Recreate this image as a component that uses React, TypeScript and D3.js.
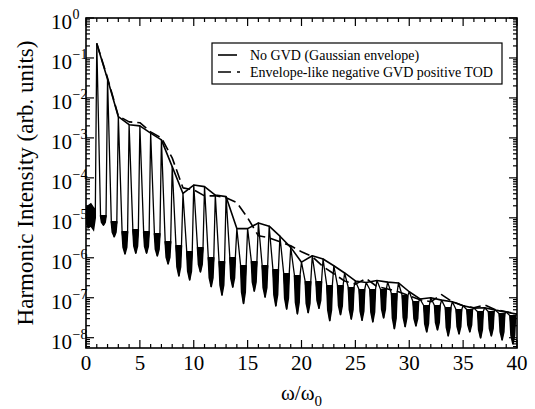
import React from 'react';
import * as d3 from 'd3';

// Harmonic orders (omega / omega_0)
const harmonicOrders = [1, 2, 3, 4, 5, 6, 7, 8, 9, 10, 11, 12, 13, 14, 15, 16, 17, 18, 19, 20,
  21, 22, 23, 24, 25, 26, 27, 28, 29, 30, 31, 32, 33, 34, 35, 36, 37, 38, 39, 40];

// No GVD: log10 of harmonic peak intensity
const noGvdPeakLog = [-0.64, -1.53, -2.47, -2.67, -2.70, -2.88, -3.05, -3.72, -4.39, -4.18,
  -4.22, -4.43, -4.47, -5.27, -5.27, -5.13, -5.21, -5.46, -5.74, -6.11,
  -5.95, -6.03, -6.20, -6.38, -6.58, -6.62, -6.57, -6.61, -6.63, -6.85,
  -7.03, -7.00, -7.06, -7.10, -7.20, -7.26, -7.25, -7.31, -7.36, -7.41];

// No GVD: noisy background between harmonics (upper and lower edge, log10)
const troughTopLog = [-4.95, -5.1, -5.35, -5.3, -5.35, -5.4, -5.6, -5.7, -5.85, -5.75,
  -6.0, -6.1, -6.0, -6.2, -6.1, -6.2, -6.3, -6.4, -6.45, -6.6,
  -6.6, -6.7, -6.7, -6.75, -6.8, -6.8, -6.8, -6.9, -6.95, -7.1,
  -7.2, -7.2, -7.25, -7.3, -7.3, -7.35, -7.35, -7.4, -7.45];
const troughBottomLog = [-5.18, -5.47, -5.9, -5.88, -5.88, -5.95, -6.15, -6.45, -6.55, -6.35,
  -6.72, -6.93, -6.73, -7.14, -6.83, -6.98, -7.2, -7.28, -7.4, -7.37,
  -7.26, -7.57, -7.42, -7.53, -7.56, -7.6, -7.5, -7.77, -7.72, -7.7,
  -7.85, -7.8, -7.95, -7.9, -7.85, -8.0, -7.95, -8.05, -8.15];

// Low-frequency noise below the first harmonic (band edges, log10)
const leadOmega = [0, 0.2, 0.45, 0.7, 0.86];
const leadTopLog = [-4.75, -4.7, -4.65, -4.75, -4.8];
const leadBottomLog = [-5.1, -5.25, -5.2, -5.3, -5.0];

// Envelope-like negative GVD positive TOD: log10 of harmonic peaks
const todPeakLog = [-0.64, -1.50, -2.45, -2.60, -2.62, -2.85, -3.00, -3.50, -4.25, -4.30,
  -4.45, -4.45, -4.50, -4.62, -5.00, -5.45, -5.50, -5.60, -5.70, -5.85,
  -5.97, -6.22, -6.40, -6.58, -6.66, -6.52, -6.72, -6.78, -6.85, -6.95,
  -7.05, -7.10, -6.92, -7.10, -7.20, -7.25, -7.18, -7.30, -7.35, -7.40];

const xMajorTicks = [0, 5, 10, 15, 20, 25, 30, 35, 40];
const yDecadeExps = [0, -1, -2, -3, -4, -5, -6, -7, -8];

const legendLabels = ['No GVD (Gaussian envelope)', 'Envelope-like negative GVD positive TOD'];

const W = 535;
const H = 409;
const plot = { left: 86, right: 517, top: 18, bottom: 348 };
const FONT = "'Liberation Serif', 'Times New Roman', 'DejaVu Serif', serif";

export default function App() {
  const x = d3.scaleLinear().domain([0, 40]).range([plot.left, plot.right]);
  const y = d3.scaleLog().domain([Math.pow(10, -8.2575), 1]).range([plot.bottom, plot.top]);
  const p = (v: number) => Math.pow(10, v);

  const line = d3.line<[number, number]>()
    .x((d) => x(d[0]))
    .y((d) => y(p(d[1])));

  // spectrum spikes
  const spec: [number, number][] = [];
  spec.push([leadOmega[leadOmega.length - 1], leadBottomLog[leadBottomLog.length - 1]]);
  harmonicOrders.forEach((o, i) => {
    spec.push([o, noGvdPeakLog[i]]);
    if (i < troughTopLog.length) {
      spec.push([o + 0.35, troughTopLog[i]]);
      spec.push([o + 0.62, troughBottomLog[i]]);
      spec.push([o + 0.86, troughTopLog[i]]);
    }
  });
  // noise blobs between harmonics
  const blobs = troughTopLog.map((t, i) => {
    const o = harmonicOrders[i];
    const b = troughBottomLog[i];
    const m = t + 0.7 * (b - t);
    return (line([[o + 0.35, t], [o + 0.44, m], [o + 0.62, b], [o + 0.78, m], [o + 0.86, t]]) as string) + 'Z';
  });
  const leadArea = d3.area<number>()
    .x((d, i) => x(leadOmega[i]))
    .y0((d, i) => y(p(leadBottomLog[i])))
    .y1((d, i) => y(p(leadTopLog[i])));
  const leadBlob = leadArea(leadOmega) as string;

  const envSolid = line(harmonicOrders.map((o, i) => [o, noGvdPeakLog[i]] as [number, number])) as string;
  const envDashed = line(harmonicOrders.map((o, i) => [o, todPeakLog[i]] as [number, number])) as string;

  const xMinor = x.ticks(40).filter((t) => !xMajorTicks.includes(t));
  const yAll = y.ticks();
  const yMinor = yAll.filter((t) => Math.abs(Math.log10(t) - Math.round(Math.log10(t))) > 1e-6);

  const majorLen = 8;
  const minorLen = 4;
  const txt = { fontFamily: FONT } as React.CSSProperties;

  return (
    <svg width={W} height={H} style={{ position: 'absolute', left: 0, top: 0, background: '#fff', fontFamily: FONT }}>
      <defs>
        <clipPath id="plotclip">
          <rect x={plot.left} y={plot.top} width={plot.right - plot.left} height={plot.bottom - plot.top} />
        </clipPath>
      </defs>
      <g clipPath="url(#plotclip)" stroke="#000">
        <path d={line(spec) as string} fill="none" strokeWidth={1.3} strokeLinejoin="round" />
        {blobs.map((d, i) => (
          <path key={i} d={d} fill="#000" strokeWidth={1.6} strokeLinejoin="round" />
        ))}
        <path d={leadBlob} fill="#000" strokeWidth={1.5} />
        <path d={envSolid} fill="none" strokeWidth={1.6} strokeLinejoin="round" />
        <path d={envDashed} fill="none" strokeWidth={1.6} strokeDasharray="11,5" strokeLinejoin="round" />
      </g>

      {/* frame */}
      <rect x={plot.left} y={plot.top} width={plot.right - plot.left} height={plot.bottom - plot.top}
        fill="none" stroke="#000" strokeWidth={1.6} />

      {/* ticks */}
      <g stroke="#000" strokeWidth={1.2}>
        {xMajorTicks.map((t) => (
          <g key={'xM' + t}>
            <line x1={x(t)} x2={x(t)} y1={plot.bottom} y2={plot.bottom - majorLen} />
            <line x1={x(t)} x2={x(t)} y1={plot.top} y2={plot.top + majorLen} />
          </g>
        ))}
        {xMinor.map((t) => (
          <g key={'xm' + t}>
            <line x1={x(t)} x2={x(t)} y1={plot.bottom} y2={plot.bottom - minorLen} />
            <line x1={x(t)} x2={x(t)} y1={plot.top} y2={plot.top + minorLen} />
          </g>
        ))}
        {yDecadeExps.map((e) => (
          <g key={'yM' + e}>
            <line x1={plot.left} x2={plot.left + majorLen} y1={y(p(e))} y2={y(p(e))} />
            <line x1={plot.right} x2={plot.right - majorLen} y1={y(p(e))} y2={y(p(e))} />
          </g>
        ))}
        {yMinor.map((t, i) => (
          <g key={'ym' + i}>
            <line x1={plot.left} x2={plot.left + minorLen} y1={y(t)} y2={y(t)} />
            <line x1={plot.right} x2={plot.right - minorLen} y1={y(t)} y2={y(t)} />
          </g>
        ))}
      </g>

      {/* x tick labels */}
      {xMajorTicks.map((t) => (
        <text key={'xl' + t} x={x(t)} y={370} textAnchor="middle" fontSize={21} fill="#000" style={txt}>{t}</text>
      ))}
      {/* y tick labels */}
      {yDecadeExps.map((e) => (
        <g key={'yl' + e}>
          <text x={72} y={y(p(e)) + 11} textAnchor="end" fontSize={21} fill="#000" style={txt}>10</text>
          <text x={72.5} y={y(p(e)) + 1} textAnchor="start" fontSize={14} fill="#000" style={txt}>
            {e === 0 ? '0' : '\u2212' + Math.abs(e)}
          </text>
        </g>
      ))}

      {/* axis titles */}
      <text x={(plot.left + plot.right) / 2} y={400} textAnchor="middle" fontSize={21} fill="#000" style={txt}>
        ω/ω<tspan fontSize={15} dy={6}>0</tspan>
      </text>
      <text transform={`translate(33, ${(plot.top + plot.bottom) / 2}) rotate(-90)`} textAnchor="middle"
        fontSize={23} fill="#000" style={txt}>Harmonic Intensity (arb. units)</text>

      {/* legend */}
      <rect x={212} y={43} width={290} height={41} fill="#fff" stroke="#000" strokeWidth={1.2} />
      <line x1={218} x2={237} y1={55} y2={55} stroke="#000" strokeWidth={1.6} />
      <line x1={218} x2={240} y1={72} y2={72} stroke="#000" strokeWidth={1.6} strokeDasharray="13,6" />
      <text x={250} y={60} fontSize={14} fill="#000" style={txt}>{legendLabels[0]}</text>
      <text x={250} y={77} fontSize={14} fill="#000" style={txt}>{legendLabels[1]}</text>
    </svg>
  );
}
